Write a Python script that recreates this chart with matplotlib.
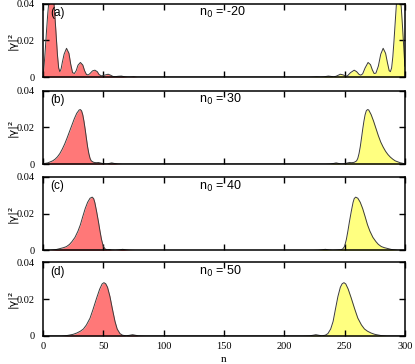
import numpy as np
import matplotlib
matplotlib.use('Agg')
import matplotlib.pyplot as plt

# panel labels and n0 values
panel_tags = ['(a)', '(b)', '(c)', '(d)']
n0_values = [-20, 30, 40, 50]

# (a) n0 = -20
a_left_n = [0, 1, 2, 3, 4, 5, 6, 7, 8, 9, 10, 11, 12, 13, 14, 15, 16, 17.5, 19.5, 21.5, 23, 24.5,
            26, 27.5, 29, 31, 33, 34.5, 36, 37.5, 39, 41, 43, 45, 46.5, 48.5, 51, 54, 56, 58, 60,
            62.5, 65, 67, 70, 73, 75, 78, 150]
a_left_y = [0.0, 0.007, 0.016, 0.026, 0.035, 0.042, 0.047, 0.049, 0.047, 0.041, 0.032, 0.022, 0.012,
            0.005, 0.003, 0.0045, 0.008, 0.0125, 0.0157, 0.013, 0.007, 0.0025, 0.002, 0.0035, 0.0065,
            0.008, 0.0066, 0.0035, 0.0015, 0.0012, 0.002, 0.0034, 0.0038, 0.003, 0.0014, 0.0007,
            0.0011, 0.0016, 0.0011, 0.0004, 0.0003, 0.0005, 0.0006, 0.0003, 0.0001, 0.0001, 0.0002,
            0.0, 0.0]
a_right_n = [150, 220, 224, 227, 230, 233, 236.5, 239, 241, 243, 246.5, 249, 251, 252.5, 255, 258,
             260, 262, 263.5, 265, 267, 269.5, 271.5, 273, 274.5, 276, 278, 280, 282, 284, 285.5,
             287, 288, 289, 290, 291, 292, 293, 294, 295, 296, 297, 298, 299, 300]
a_right_y = [0.0, 0.0, 0.0001, 0.0002, 0.0001, 0.0002, 0.0006, 0.0004, 0.0002, 0.0005, 0.0016, 0.0012,
             0.0005, 0.0008, 0.0025, 0.0038, 0.003, 0.0015, 0.0011, 0.0018, 0.005, 0.008, 0.0068,
             0.004, 0.002, 0.0022, 0.006, 0.0125, 0.0157, 0.013, 0.008, 0.0035, 0.003, 0.005, 0.011,
             0.02, 0.03, 0.04, 0.047, 0.048, 0.045, 0.038, 0.028, 0.017, 0.006]

# (b) n0 = 30
b_left_n = [0, 4, 8, 10, 12, 14, 16, 18, 20, 22, 24, 26, 28, 30, 31, 32, 33, 34, 35, 36, 37, 38, 39,
            40, 42, 44, 46, 48, 50, 53, 55, 57, 59, 62, 66, 150]
b_left_y = [0.0002, 0.0007, 0.0018, 0.0027, 0.004, 0.0058, 0.0082, 0.011, 0.0143, 0.0178, 0.0213,
            0.0248, 0.0277, 0.0295, 0.0297, 0.029, 0.0268, 0.0232, 0.0188, 0.014, 0.0094, 0.0058,
            0.0032, 0.0018, 0.001, 0.0008, 0.0009, 0.0006, 0.0002, 0.0001, 0.0004, 0.0007, 0.0004,
            0.0001, 0.0, 0.0]
b_right_n = [150, 234, 238, 241, 243, 245, 247, 250, 252, 254, 256, 258, 260, 261, 262, 263, 264, 265,
             266, 267, 268, 269, 270, 272, 274, 276, 278, 280, 282, 284, 286, 288, 290, 292, 296, 300]
b_right_y = [0.0, 0.0, 0.0001, 0.0004, 0.0007, 0.0004, 0.0001, 0.0002, 0.0006, 0.0009, 0.0008, 0.001,
             0.0018, 0.0032, 0.0058, 0.0094, 0.014, 0.0188, 0.0232, 0.0268, 0.029, 0.0297, 0.0295,
             0.027, 0.0235, 0.0195, 0.0155, 0.012, 0.0093, 0.007, 0.0052, 0.0038, 0.0027, 0.0018,
             0.0008, 0.0002]

# (c) n0 = 40
c_left_n = [0, 6, 11, 14, 17, 19.5, 22, 24, 26.5, 29, 31, 33, 35, 37, 39, 40.8, 42, 43, 44.5, 46,
            47.2, 48.5, 50, 51.5, 53, 55, 57, 60, 63, 66, 69, 72, 76, 150]
c_left_y = [0.0, 0.0001, 0.0005, 0.001, 0.0015, 0.0021, 0.0033, 0.0048, 0.0071, 0.0105, 0.014, 0.0185,
            0.0228, 0.0262, 0.0284, 0.029, 0.0282, 0.026, 0.021, 0.0155, 0.0107, 0.006, 0.0022,
            0.0008, 0.0004, 0.0005, 0.0002, 0.0001, 0.0003, 0.0006, 0.0003, 0.0001, 0.0, 0.0]
c_right_n = [150, 224, 228, 231, 234, 237, 240, 243, 245, 247, 248.5, 250, 251.5, 252.8, 254, 255.5,
             257, 258, 259.2, 261, 263, 265, 267, 269, 271, 273.5, 276, 278, 280.5, 283, 286, 289,
             294, 300]
c_right_y = [0.0, 0.0, 0.0001, 0.0003, 0.0006, 0.0003, 0.0001, 0.0002, 0.0003, 0.0004, 0.0008, 0.0022,
             0.006, 0.0107, 0.0155, 0.021, 0.026, 0.0282, 0.029, 0.0284, 0.0262, 0.0228, 0.0185,
             0.014, 0.0105, 0.0071, 0.0048, 0.0033, 0.0021, 0.0015, 0.001, 0.0005, 0.0001, 0.0]

# (d) n0 = 50
d_left_n = [0, 15, 19.5, 22, 25, 28, 31, 33.5, 36, 39, 41.5, 44.5, 47, 49, 50.5, 52, 53.5, 55.5,
            57.5, 59.7, 61.5, 63.8, 66, 69, 72, 74.3, 76.5, 79, 85, 150]
d_left_y = [0.0, 0.0, 0.0002, 0.0005, 0.0009, 0.0016, 0.0026, 0.0038, 0.006, 0.0097, 0.0145, 0.0207,
            0.0255, 0.0283, 0.029, 0.0284, 0.0265, 0.0215, 0.0148, 0.0079, 0.0038, 0.0013, 0.0004,
            0.0001, 0.0004, 0.0007, 0.0004, 0.0001, 0.0, 0.0]
d_right_n = [150, 215, 221, 224, 226.2, 228.5, 231, 234, 236.2, 238.5, 240.5, 242.5, 244.5, 246.5,
             248, 249.5, 251, 253, 255.5, 258.5, 261, 264, 266.5, 269, 272, 275, 278, 280.5, 285, 300]
d_right_y = [0.0, 0.0, 0.0001, 0.0004, 0.0007, 0.0004, 0.0001, 0.0004, 0.0013, 0.0038, 0.0079, 0.0148,
             0.0215, 0.0265, 0.0284, 0.029, 0.0283, 0.0255, 0.0207, 0.0145, 0.0097, 0.006, 0.0038,
             0.0026, 0.0016, 0.0009, 0.0005, 0.0002, 0.0, 0.0]

left_series = [(a_left_n, a_left_y), (b_left_n, b_left_y), (c_left_n, c_left_y), (d_left_n, d_left_y)]
right_series = [(a_right_n, a_right_y), (b_right_n, b_right_y), (c_right_n, c_right_y), (d_right_n, d_right_y)]

x_ticks = [0, 50, 100, 150, 200, 250, 300]
y_ticks = [0, 0.02, 0.04]
y_tick_labels = ['0', '0.02', '0.04']

fig = plt.figure(figsize=(4.15, 3.64), dpi=100)
bottoms = [0.788, 0.549, 0.312, 0.077]
serif = 'Liberation Serif'
sans = 'Liberation Sans'

for i in range(4):
    ax = fig.add_axes([0.1036, bottoms[i], 0.872, 0.202])
    for (n, y), col in zip([left_series[i], right_series[i]], ['#ff7878', '#ffff80']):
        ax.fill_between(n, y, 0, color=col, lw=0)
        ax.plot(n, y, color='#3a3a3a', lw=0.7)
    ax.set_xlim(0, 300)
    ax.set_ylim(0, 0.04)
    ax.set_xticks(x_ticks)
    ax.set_yticks(y_ticks)
    ax.set_yticklabels(y_tick_labels, fontfamily=serif, fontsize=7.5)
    ax.tick_params(direction='in', top=True, right=True, length=4, width=1.0)
    ax.tick_params(axis='y', pad=6)
    ax.tick_params(axis='x', pad=4)
    if i < 3:
        ax.set_xticklabels([])
    else:
        ax.set_xticklabels([str(t) for t in x_ticks], fontfamily=serif, fontsize=7.5)
        ax.set_xlabel('n', fontfamily=serif, fontsize=8, labelpad=3)
    for s in ax.spines.values():
        s.set_linewidth(1.1)
    ax.text(0.02, 0.875, panel_tags[i], transform=ax.transAxes, fontfamily=sans,
            fontsize=8.5, va='center', ha='left')
    ax.text(0.432, 0.875, r'n$_0$ = %d' % n0_values[i], transform=ax.transAxes,
            fontfamily=sans, fontsize=9, va='center', ha='left')
    ax.set_ylabel('|γ|²', fontfamily='DejaVu Sans', fontsize=8)
    ax.yaxis.set_label_coords(-0.07, 0.5)

plt.savefig('out.png', dpi=100)
